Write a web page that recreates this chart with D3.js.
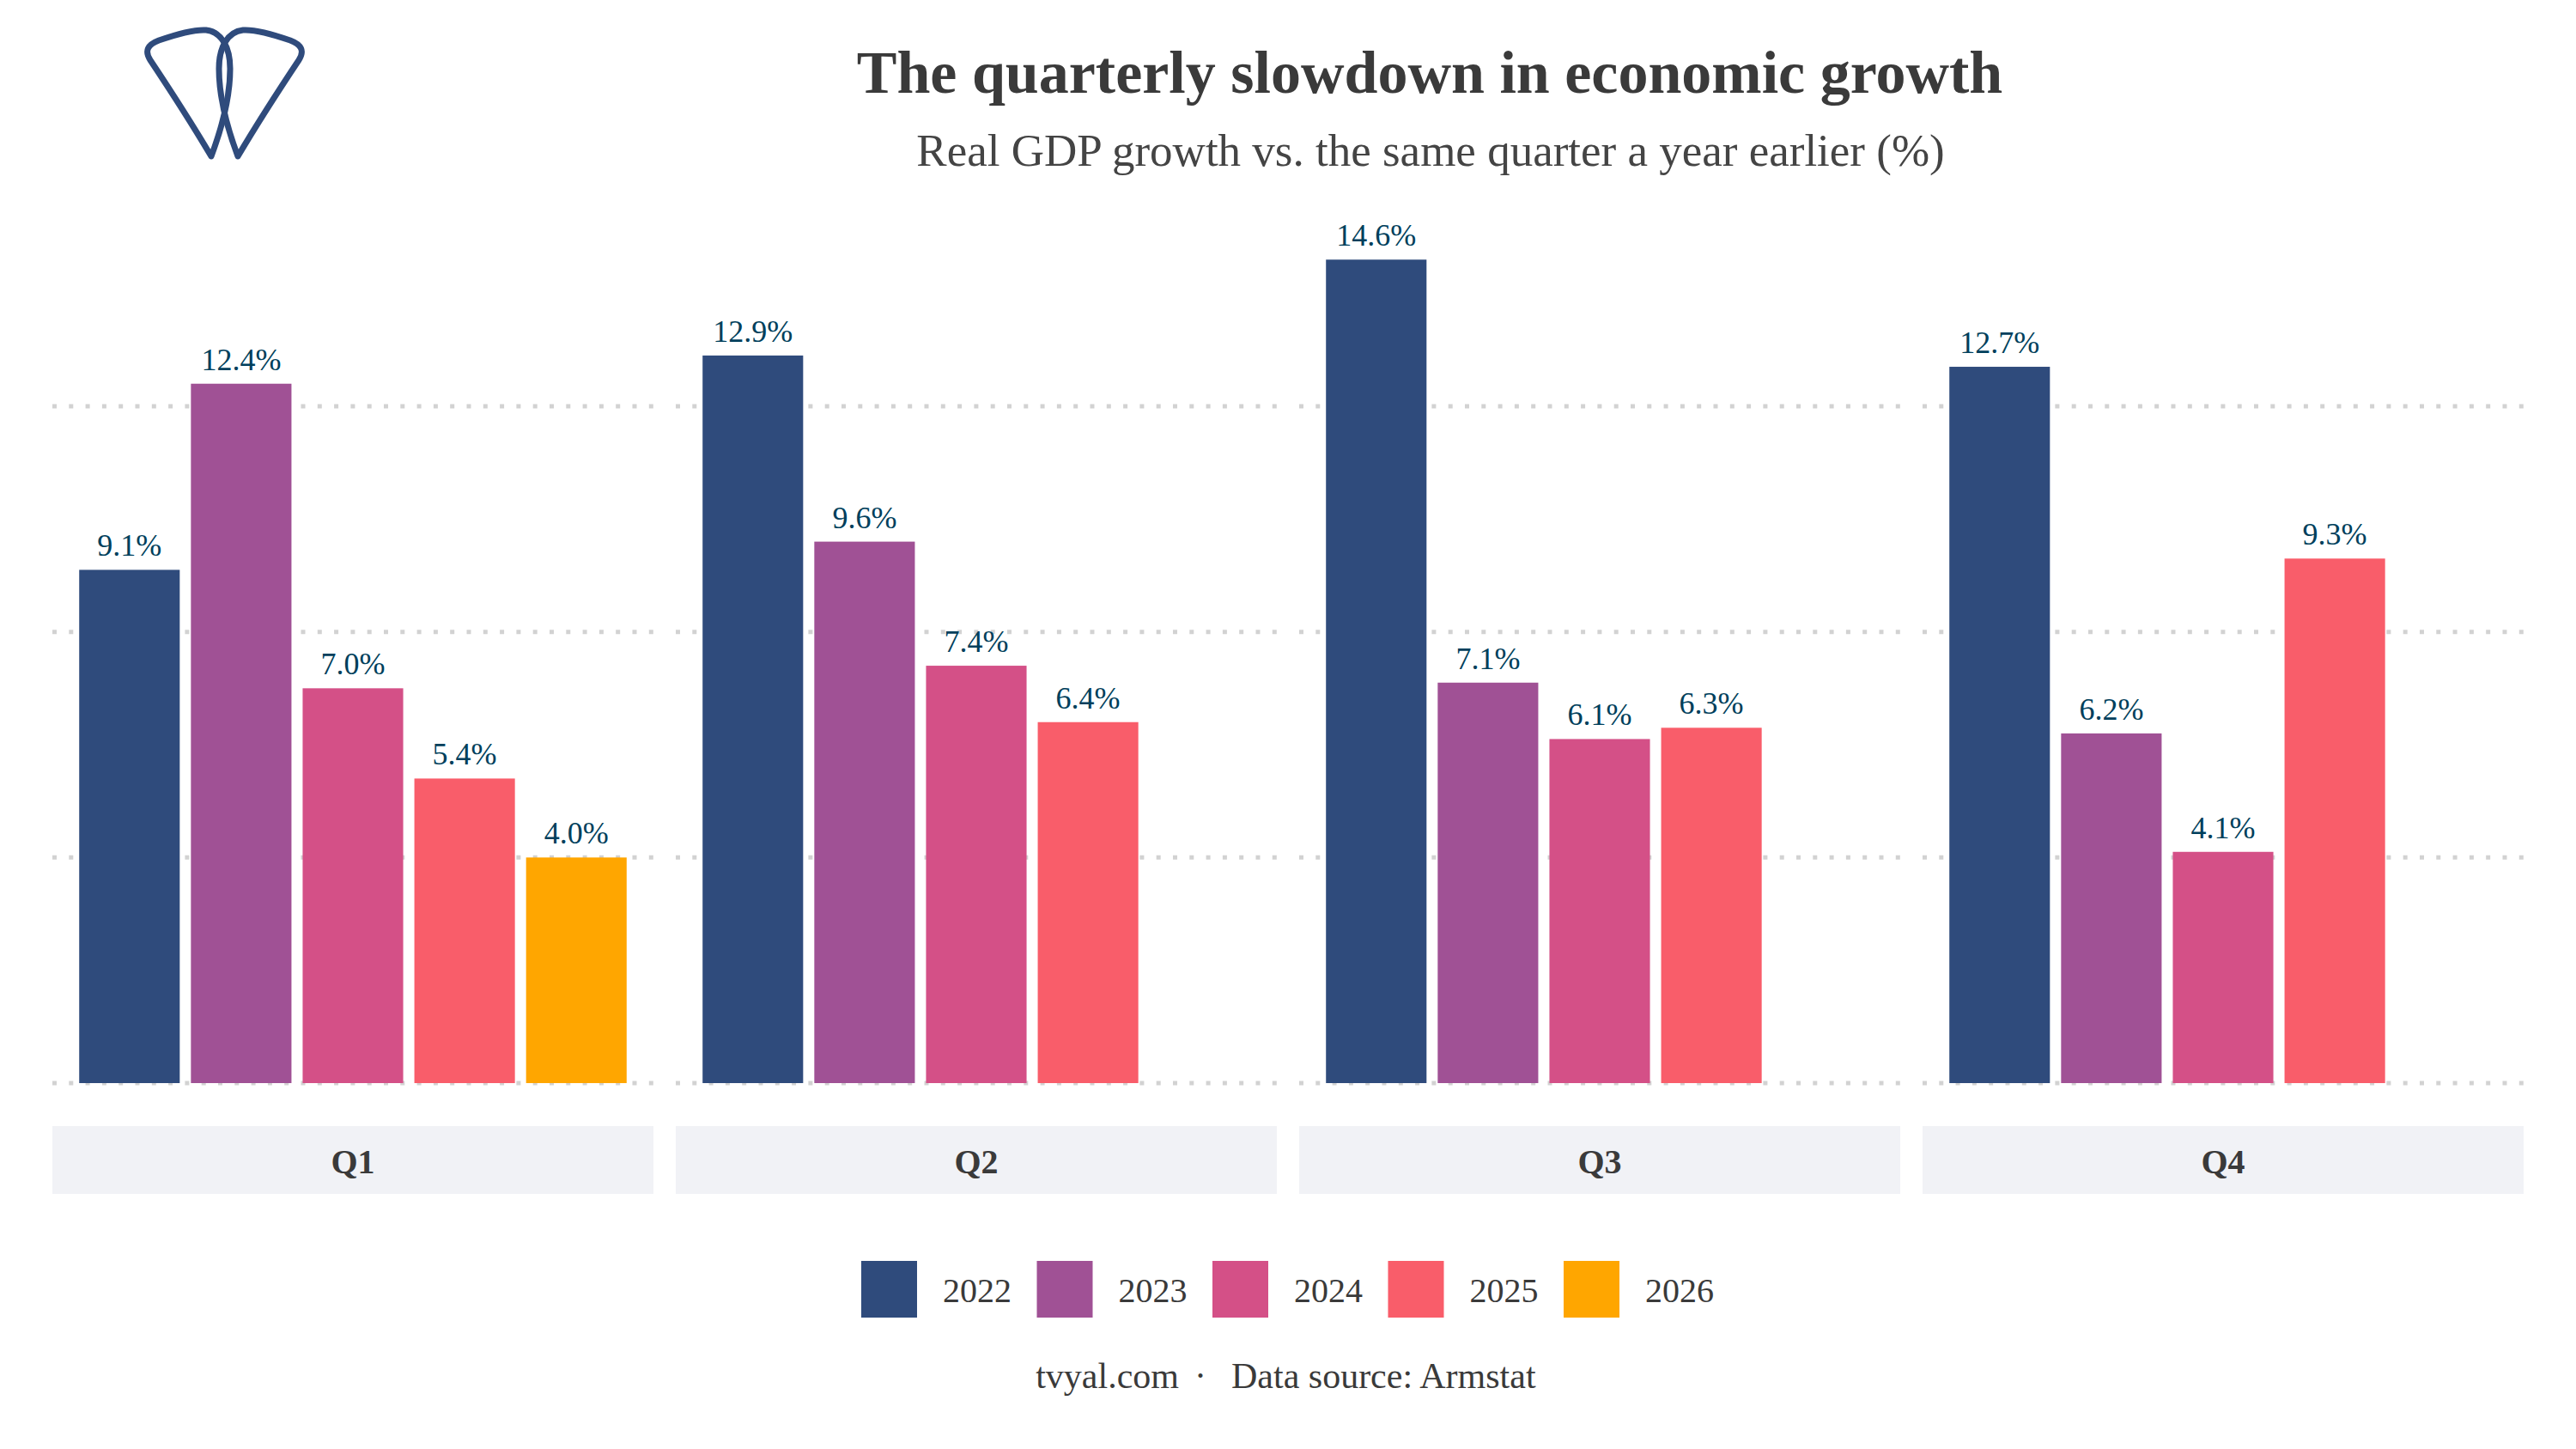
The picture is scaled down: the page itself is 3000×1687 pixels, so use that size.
<!DOCTYPE html>
<html>
<head>
<meta charset="utf-8">
<script src="https://cdn.jsdelivr.net/npm/d3@7"></script>
<style>
    body { margin: 0; background: #ffffff; }
    svg { display: block; }
    text { font-family: "Liberation Serif", "DejaVu Serif", serif; }
</style>
</head>
<body>
<svg id="chart" width="3000" height="1687"></svg>
<script>
// Quarterly real GDP growth, % vs the same quarter a year earlier
const quarters = ["Q1", "Q2", "Q3", "Q4"];
const years = ["2022", "2023", "2024", "2025", "2026"];
const growth2022 = [9.1, 12.9, 14.6, 12.7];
const growth2023 = [12.4, 9.6, 7.1, 6.2];
const growth2024 = [7.0, 7.4, 6.1, 4.1];
const growth2025 = [5.4, 6.4, 6.3, 9.3];
const growth2026 = [4.0, null, null, null];
const yTicks = [0, 4, 8, 12];
const yearColors = ["#2f4b7c", "#a05195", "#d45087", "#f95d6a", "#ffa600"];

const seriesByYear = [growth2022, growth2023, growth2024, growth2025, growth2026];

// long format table, skipping missing quarters
const rows = [];
quarters.forEach((q, qi) => {
    years.forEach((yr, yi) => {
        const v = seriesByYear[yi][qi];
        if (v !== null) rows.push({ quarter: q, year: yr, value: v });
    });
});

const svg = d3.select("#chart");

// layout
const plotLeft = 61, plotRight = 2939,
      baseline = 1261, topY = 473,
      stripTop = 1311, stripHeight = 79;

// panel (facet) scale
const panel = d3.scaleBand()
    .domain(quarters)
    .range([plotLeft, plotRight])
    .paddingInner(0.0358)
    .paddingOuter(0);

// bars inside one panel, all five years keep their slot
const x = d3.scaleBand()
    .domain(years)
    .range([0, panel.bandwidth()])
    .paddingInner(0.1)
    .paddingOuter(0.24);

const y = d3.scaleLinear()
    .domain([0, 12])
    .range([baseline, topY]);

const color = d3.scaleOrdinal()
    .domain(years)
    .range(yearColors);

// title block
svg.append("text")
    .attr("x", 1665)
    .attr("y", 108)
    .attr("text-anchor", "middle")
    .attr("font-size", "70px")
    .attr("font-weight", "bold")
    .attr("fill", "#3a3a3a")
    .text("The quarterly slowdown in economic growth");

svg.append("text")
    .attr("x", 1666)
    .attr("y", 193)
    .attr("text-anchor", "middle")
    .attr("font-size", "53px")
    .attr("fill", "#444444")
    .text("Real GDP growth vs. the same quarter a year earlier (%)");

// logo: two overlapping teardrops
const logo = svg.append("g")
    .attr("fill", "none")
    .attr("stroke", "#2f4b7c")
    .attr("stroke-width", 7)
    .attr("stroke-linejoin", "round");

const drop = "M246,182 C230,155 195,100 175,70 C168,59 172,52 185,47 " +
             "C205,40 225,34 240,35 C258,37 268,55 268,80 C268,112 258,150 246,182 Z";
logo.append("path").attr("d", drop);
logo.append("path").attr("d", drop).attr("transform", "translate(523,0) scale(-1,1)");

// panels
const panels = svg.selectAll(".panel")
    .data(quarters)
    .enter()
    .append("g")
    .attr("class", "panel")
    .attr("transform", d => `translate(${panel(d)},0)`);

// dotted gridlines
panels.each(function() {
    d3.select(this).append("g")
        .selectAll("line")
        .data(yTicks)
        .enter()
        .append("line")
        .attr("x1", 0)
        .attr("x2", panel.bandwidth())
        .attr("y1", d => y(d))
        .attr("y2", d => y(d))
        .attr("stroke", "#d2d2d2")
        .attr("stroke-width", 5)
        .attr("stroke-dasharray", "5 14.3");
});

// bars
panels.selectAll(".bar")
    .data(q => rows.filter(r => r.quarter === q))
    .enter()
    .append("rect")
    .attr("class", "bar")
    .attr("x", d => x(d.year))
    .attr("y", d => y(d.value))
    .attr("width", x.bandwidth())
    .attr("height", d => baseline - y(d.value))
    .attr("fill", d => color(d.year));

// value labels
panels.selectAll(".label")
    .data(q => rows.filter(r => r.quarter === q))
    .enter()
    .append("text")
    .attr("class", "label")
    .attr("x", d => x(d.year) + x.bandwidth() / 2)
    .attr("y", d => y(d.value) - 16)
    .attr("text-anchor", "middle")
    .attr("font-size", "36px")
    .attr("fill", "#003f5c")
    .text(d => `${d.value.toFixed(1)}%`);

// facet strips
panels.append("rect")
    .attr("x", 0)
    .attr("y", stripTop)
    .attr("width", panel.bandwidth())
    .attr("height", stripHeight)
    .attr("fill", "#f1f2f6");

panels.append("text")
    .attr("x", panel.bandwidth() / 2)
    .attr("y", stripTop + 55)
    .attr("text-anchor", "middle")
    .attr("font-size", "40px")
    .attr("font-weight", "bold")
    .attr("fill", "#3a3a3a")
    .text(d => d);

// legend
const legendStep = 204.5, legendLeft = 1003;
const legend = svg.append("g")
    .selectAll("g")
    .data(years)
    .enter()
    .append("g")
    .attr("transform", (d, i) => `translate(${legendLeft + i * legendStep},1468)`);

legend.append("rect")
    .attr("width", 65)
    .attr("height", 66)
    .attr("fill", d => color(d));

legend.append("text")
    .attr("x", 95)
    .attr("y", 48)
    .attr("font-size", "40px")
    .attr("fill", "#3a3a3a")
    .text(d => d);

// caption
const caption = svg.append("g")
    .attr("font-size", "42px")
    .attr("fill", "#3a3a3a");

caption.append("text")
    .attr("x", 1373)
    .attr("y", 1616)
    .attr("text-anchor", "end")
    .text("tvyal.com");

caption.append("text")
    .attr("x", 1398)
    .attr("y", 1616)
    .attr("text-anchor", "middle")
    .text("·");

caption.append("text")
    .attr("x", 1434)
    .attr("y", 1616)
    .text("Data source: Armstat");
</script>
</body>
</html>
